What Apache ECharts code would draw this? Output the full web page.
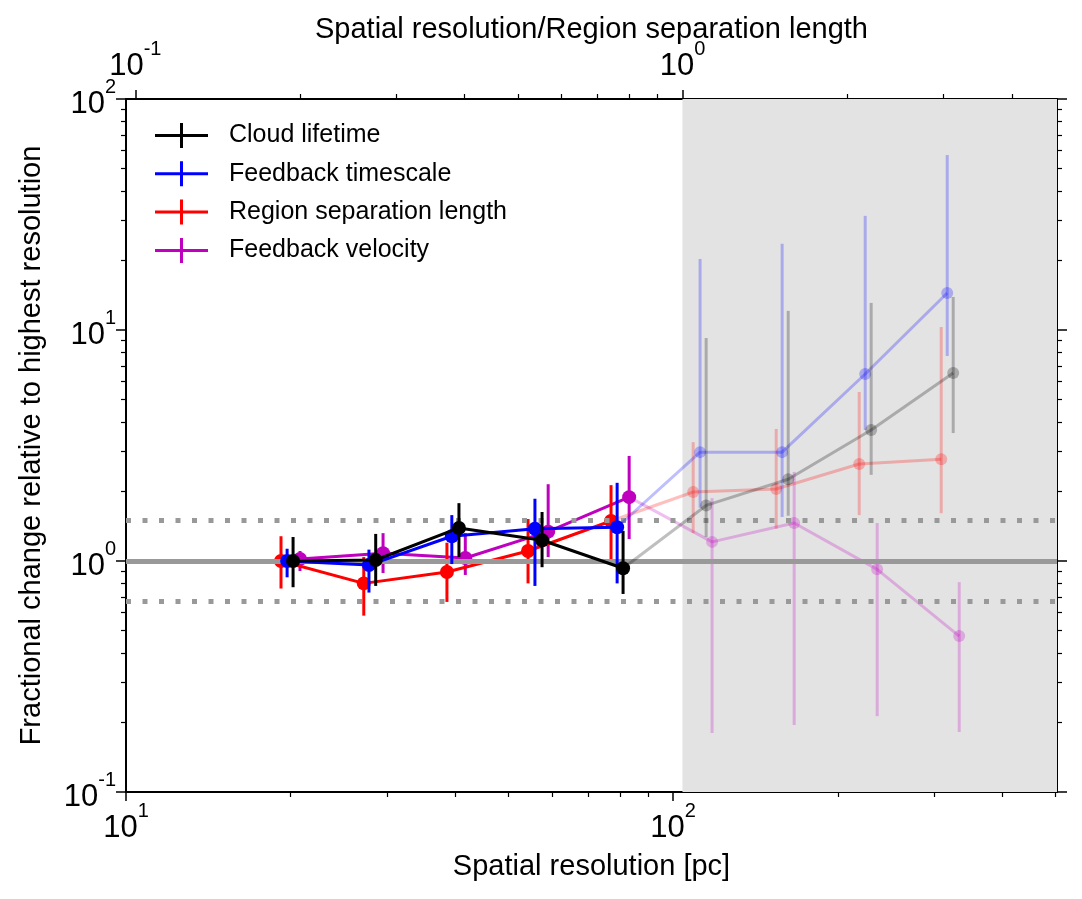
<!DOCTYPE html>
<html><head><meta charset="utf-8">
<script src="https://cdn.jsdelivr.net/npm/echarts@6/dist/echarts.min.js"></script>
<style>html,body{margin:0;padding:0;background:#fff}#c{width:1082px;height:899px}</style>
</head><body><div id="c"></div>
<script>
// ---- data ----
const seriesNames  = ['Cloud lifetime', 'Feedback timescale', 'Region separation length', 'Feedback velocity'];
const seriesColors = ['#000000', '#0000ff', '#ff0000', '#bf00bf'];

const lifetimeX  = [20.2, 28.6, 40.6, 57.6, 81.0, 114.9, 162.3, 230.1, 325.0];
const lifetimeY  = [1.00, 1.01, 1.39, 1.23, 0.93, 1.74, 2.26, 3.69, 6.51];
const lifetimeHi = [1.27, 1.31, 1.78, 1.63, 1.35, 9.23, 12.1, 13.1, 13.9];
const lifetimeLo = [0.77, 0.78, 1.04, 0.94, 0.72, 1.27, 1.57, 2.36, 3.58];

const fbTimeX  = [19.7, 27.8, 39.4, 55.9, 79.0, 112.0, 158.2, 224.4, 316.9];
const fbTimeY  = [1.00, 0.96, 1.28, 1.38, 1.40, 2.96, 2.96, 6.45, 14.46];
const fbTimeHi = [1.13, 1.12, 1.58, 1.86, 2.18, 20.3, 23.6, 31.2, 57.2];
const fbTimeLo = [0.85, 0.73, 0.97, 0.78, 0.80, 1.70, 1.55, 3.69, 7.72];

const sepX  = [19.2, 27.2, 38.6, 54.3, 77.0, 108.8, 154.3, 218.8, 309.0];
const sepY  = [1.00, 0.80, 0.896, 1.105, 1.49, 1.99, 2.05, 2.63, 2.76];
const sepHi = [1.28, 1.04, 1.20, 1.52, 2.13, 3.27, 3.73, 5.39, 10.3];
const sepLo = [0.76, 0.58, 0.665, 0.80, 1.00, 1.32, 1.38, 1.58, 1.61];

const fbVelX  = [20.8, 29.5, 41.7, 59.1, 83.1, 117.8, 166.4, 236.0, 333.3];
const fbVelY  = [1.02, 1.08, 1.03, 1.34, 1.89, 1.21, 1.46, 0.92, 0.473];
const fbVelHi = [1.105, 1.32, 1.32, 2.15, 2.85, 1.87, 2.43, 1.46, 0.81];
const fbVelLo = [0.905, 0.887, 0.87, 1.04, 1.245, 0.18, 0.195, 0.213, 0.182];

const regionSeparation = 104;          // pc : top axis = bottom axis / this
const xMin = 10, xMax = 503;
const yMin = 0.1, yMax = 100;
const xTickValues = [10, 100];
const topTickValues = [0.1, 1];
const yTickValues = [0.1, 1, 10, 100];
const refSolid = [1];
const refDotted = [1.5, 0.667];
// --------------------------------------

const FONT = 'Liberation Sans, Arial, sans-serif';
const datasets = [
  {x: lifetimeX, y: lifetimeY, hi: lifetimeHi, lo: lifetimeLo, order: 4},
  {x: fbTimeX, y: fbTimeY, hi: fbTimeHi, lo: fbTimeLo, order: 3},
  {x: sepX, y: sepY, hi: sepHi, lo: sepLo, order: 2},
  {x: fbVelX, y: fbVelY, hi: fbVelHi, lo: fbVelLo, order: 1}
];
const FADE = 0.25;

function powLabel(v) {
  const e = Math.round(Math.log10(v));
  return '{b|10}{s|' + (e < 0 ? '-' + (-e) : e) + '}';
}
const labelRich = {
  b: {fontFamily: FONT, fontSize: 31, color: '#000', lineHeight: 30, padding: [10, 0, 0, 0]},
  s: {fontFamily: FONT, fontSize: 20, color: '#000', lineHeight: 22, padding: [0, 0, 24, 0]}
};

function axisCommon(extra) {
  return Object.assign({
    type: 'log', logBase: 10, nameMoveOverlap: false,
    axisLine: {show: true, onZero: false, lineStyle: {color: '#000', width: 2}},
    minorTick: {show: true, splitNumber: 9, length: 5, lineStyle: {color: '#000', width: 1.2}},
    splitLine: {show: false}, minorSplitLine: {show: false}
  }, extra);
}

const series = [];
// shaded unresolved region (top axis >= 1)
series.push({
  type: 'line', name: '_shade', xAxisIndex: 1, yAxisIndex: 0,
  data: [[1, 1]], showSymbol: false, lineStyle: {opacity: 0}, silent: true, z: 0,
  markArea: {silent: true, itemStyle: {color: '#e3e3e3'},
    data: [[{xAxis: 1}, {xAxis: xMax / regionSeparation}]]}
});
// reference lines
series.push({
  type: 'line', name: '_ref', xAxisIndex: 0, yAxisIndex: 0,
  data: [[xMin, 1]], showSymbol: false, lineStyle: {opacity: 0}, silent: true, z: 1,
  markLine: {silent: true, symbol: 'none', label: {show: false},
    data: refSolid.map(v => ({yAxis: v, lineStyle: {color: '#999', width: 5, type: 'solid'}}))
      .concat(refDotted.map(v => ({yAxis: v, lineStyle: {color: '#999', width: 5, type: [5, 11.5], cap: 'butt'}})))}
});

datasets.forEach((d, k) => {
  const color = seriesColors[k];
  const name = seriesNames[k];
  const z = 2 + d.order;
  const resolved = d.x.map(v => v < regionSeparation);
  const lastRes = resolved.lastIndexOf(true);
  // error bars
  series.push({
    type: 'custom', name: name + ' err', xAxisIndex: 0, yAxisIndex: 0, z: z, silent: true,
    data: d.x.map((v, i) => [v, d.lo[i], d.hi[i], resolved[i] ? 1 : 0]),
    encode: {x: 0, y: [1, 2]},
    renderItem: function (params, api) {
      const p1 = api.coord([api.value(0), api.value(1)]);
      const p2 = api.coord([api.value(0), api.value(2)]);
      return {type: 'line', shape: {x1: p1[0], y1: p1[1], x2: p2[0], y2: p2[1]},
        style: {stroke: color, lineWidth: 3, opacity: api.value(3) === 1 ? 1 : FADE}};
    }
  });
  // faded continuation (unresolved)
  series.push({
    type: 'line', name: name + ' (unresolved)', xAxisIndex: 0, yAxisIndex: 0, z: z, silent: true,
    data: d.x.map((v, i) => [v, d.y[i]]).slice(lastRes),
    symbol: 'circle', symbolSize: 12, showSymbol: true,
    itemStyle: {color: color, opacity: FADE},
    lineStyle: {color: color, width: 3, opacity: FADE},
    emphasis: {disabled: true}
  });
  // resolved points
  series.push({
    type: 'line', name: name, xAxisIndex: 0, yAxisIndex: 0, z: z,
    data: d.x.map((v, i) => [v, d.y[i]]).slice(0, lastRes + 1),
    symbol: 'circle', symbolSize: 14, showSymbol: true,
    itemStyle: {color: color},
    lineStyle: {color: color, width: 3},
    emphasis: {disabled: true}
  });
});

const titleStyle = {fontFamily: FONT, fontSize: 29, color: '#000'};
const chart = echarts.init(document.getElementById('c'), null, {renderer: 'canvas'});
chart.setOption({
  animation: false,
  backgroundColor: '#fff',
  grid: {left: 126, right: 25, top: 99, bottom: 107, containLabel: false},
  legend: {
    data: seriesNames, orient: 'vertical', left: 150, top: 118,
    icon: 'path://M0,11 H53 V14 H0 Z M25,0 H28 V25 H25 Z',
    itemWidth: 53, itemHeight: 25, itemGap: 13.3,
    textStyle: {fontFamily: FONT, fontSize: 25, color: '#000', padding: [0, 0, 0, 16]},
    selectedMode: false
  },
  xAxis: [
    axisCommon({position: 'bottom', min: xMin, max: xMax,
      name: 'Spatial resolution [pc]', nameLocation: 'middle', nameGap: 60, nameTextStyle: titleStyle,
      axisLabel: {formatter: powLabel, rich: labelRich, margin: 16, customValues: xTickValues},
      axisTick: {show: true, length: 9, lineStyle: {color: '#000', width: 1.5}, customValues: xTickValues}}),
    axisCommon({position: 'top', min: xMin / regionSeparation, max: xMax / regionSeparation,
      name: 'Spatial resolution/Region separation length', nameLocation: 'middle', nameGap: 55, nameTextStyle: titleStyle,
      axisLabel: {formatter: powLabel, rich: labelRich, margin: 23, customValues: topTickValues},
      axisTick: {show: true, length: 9, lineStyle: {color: '#000', width: 1.5}, customValues: topTickValues}})
  ],
  yAxis: [
    axisCommon({position: 'left', min: yMin, max: yMax,
      name: 'Fractional change relative to highest resolution', nameLocation: 'middle', nameGap: 80, nameTextStyle: titleStyle,
      axisLabel: {formatter: powLabel, rich: labelRich, margin: 10, customValues: yTickValues},
      axisTick: {show: true, length: 10, lineStyle: {color: '#000', width: 1.5}, customValues: yTickValues}}),
    axisCommon({position: 'right', min: yMin, max: yMax,
      axisLabel: {show: false},
      axisTick: {show: true, length: 10, lineStyle: {color: '#000', width: 1.5}, customValues: yTickValues}})
  ],
  series: series
});
</script>
</body></html>
